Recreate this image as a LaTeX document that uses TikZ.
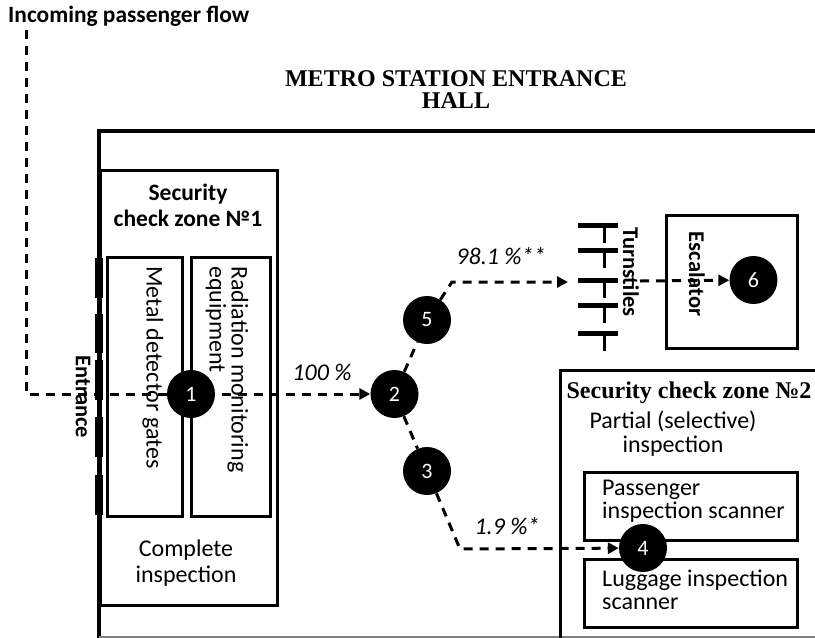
\documentclass[tikz,border=0pt]{standalone}
\usepackage{fontspec}
\setmainfont{Carlito}
\newfontfamily\timesf{Liberation Serif}
\usetikzlibrary{arrows.meta,backgrounds}
\begin{document}
\begin{tikzpicture}[x=1pt,y=-1pt,
  num/.style={circle,fill=black,minimum size=48pt,inner sep=0pt,text=white,font=\fontsize{22}{24}\selectfont},
  flow/.style={line width=3pt,dash pattern=on 9pt off 7pt},
  arr/.style={-{Triangle[length=11pt,width=11pt]}},
  txt/.style={font=\fontsize{24}{26}\selectfont,inner sep=0pt},
  btxt/.style={font=\bfseries\fontsize{23}{26}\selectfont,inner sep=0pt},
  pct/.style={font=\itshape\fontsize{24}{25}\selectfont,inner sep=0pt},
  ser/.style={font=\timesf\bfseries\fontsize{24}{22}\selectfont,inner sep=0pt,align=center},
  wall/.style={line width=4.5pt},
  zone/.style={line width=3pt},
  box/.style={line width=3pt}]
\useasboundingbox (0,0) rectangle (815,638);
% hall walls
\draw[wall] (99,638) -- (99,131) -- (815,131);
\draw[line width=1.2pt,gray] (99,637) -- (815,637);
% entrance doors
\foreach \a/\b in {258/298,314/353,360/400,417/457,475/515}
  \fill (95,\a) rectangle (103,\b);
% zone 1
\draw[zone] (100,170) rectangle (277,605);
\draw[box] (107,257) rectangle (182,516);
\draw[box] (191,257) rectangle (270,516);
% zone 2
\draw[zone] (560,638) -- (560,370) -- (815,370);
\draw[box] (584,472) rectangle (797,540);
\draw[box] (584,559) rectangle (797,627);
% escalator
\draw[zone] (666,215) rectangle (797,348);
% turnstiles
\foreach \y in {225,250,280,305,333} {
  \draw[line width=5pt] (578,\y) -- (618,\y);
  \draw[line width=3pt] (604,\y) -- (604,\y+18);
}
% texts
\node[btxt,align=center,font=\bfseries\fontsize{23.5}{26}\selectfont] (z1t) at (188,205) {Security\\check zone №1};
\node[txt,rotate=-90,anchor=west] (mdg) at (153,266) {Metal detector gates};
\node[txt,rotate=-90,anchor=west,align=left,font=\fontsize{24}{22}\selectfont] (rme) at (227,266) {Radiation monitoring\\equipment};
\node[txt,align=center] (cmp) at (186,563) {Complete\\inspection};
\node[btxt,rotate=-90,font=\bfseries\fontsize{22.5}{26}\selectfont] (ent) at (83,397) {Entrance};
\node[btxt,anchor=west,font=\bfseries\fontsize{23.4}{26}\selectfont] (inc) at (8,16) {Incoming passenger flow};
\node[ser] (hall) at (456,90) {METRO STATION ENTRANCE\\HALL};
\node[btxt,rotate=-90,font=\bfseries\fontsize{22.5}{26}\selectfont] (turn) at (631,272) {Turnstiles};
\node[btxt,rotate=-90,font=\bfseries\fontsize{22.5}{26}\selectfont] (esc) at (697,274) {Escalator};
\node[ser] (z2t) at (689,393) {Security check zone №2};
\node[txt,align=center,font=\fontsize{24}{24}\selectfont] (z2s) at (673,434) {Partial (selective)\\inspection};
\node[txt,align=left,anchor=west,font=\fontsize{24}{23}\selectfont] (pst) at (602,501) {Passenger\\inspection scanner};
\node[txt,align=left,anchor=west,font=\fontsize{24}{23}\selectfont] (lst) at (602,590) {Luggage inspection\\scanner};
% numbered nodes
\node[num] (n1) at (191,394) {1};
\node[num] (n2) at (394.5,394) {2};
\node[num] (n5) at (427,320) {5};
\node[num] (n3) at (427,471) {3};
\node[num] (n4) at (643,548) {4};
\node[num] (n6) at (753.5,280) {6};
% percentages
\node[pct] (p100) at (322,372) {100 \%};
\node[pct] (p98) at (501,256) {98.1 \%**};
\node[pct] (p19) at (507,526) {1.9 \%*};
% coordinates
\coordinate (start) at (26,30);
\coordinate (c5) at (452,282);
\coordinate (t5) at (568,282);
\coordinate (t6) at (640,281);
\coordinate (c3) at (460,549);
% connectors
\begin{scope}[on background layer]
\draw[flow,arr] (start) |- (n2);
\draw[flow] (n2) -- (n5);
\draw[flow,arr] (n5) -- (c5) -- (t5);
\draw[flow,arr] (t6) -- (n6);
\draw[flow] (n2) -- (n3);
\draw[flow,arr] (n3) -- (c3) -- (n4);
\end{scope}
\end{tikzpicture}
\end{document}
